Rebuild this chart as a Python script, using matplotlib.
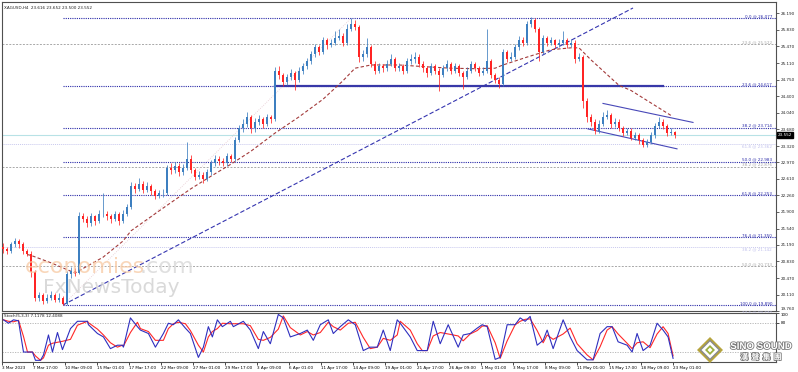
import matplotlib
matplotlib.use("Agg")
import matplotlib.pyplot as plt
import matplotlib.transforms as mtransforms
import matplotlib.patheffects as pe
from matplotlib.patches import Polygon

plt.rcParams['font.family'] = ['DejaVu Sans']

# XAGUSD H4 - one candle here stands for two H4 bars of the screenshot
first_open = 21.15
closes = [
    21.10, 21.05, 21.20, 21.28, 21.20, 21.05, 21.00, 20.60, 20.05, 20.10,
    19.98, 20.05, 20.10, 20.00, 20.05, 19.92, 20.55, 20.62, 20.58, 21.80,
    21.75, 21.65, 21.80, 21.70, 21.85, 21.85, 21.80, 21.75, 21.85, 21.70,
    21.85, 22.00, 22.45, 22.40, 22.50, 22.38, 22.45, 22.35, 22.25, 22.30,
    22.30, 22.85, 22.80, 22.90, 22.75, 22.85, 23.05, 22.80, 22.65, 22.70,
    22.60, 22.75, 22.95, 23.05, 23.00, 22.95, 23.10, 23.05, 23.45, 23.70,
    23.80, 23.95, 23.70, 23.85, 23.90, 23.80, 23.95, 23.90, 24.95, 24.85,
    24.70, 24.80, 24.90, 24.75, 24.95, 25.05, 25.15, 25.30, 25.45, 25.35,
    25.60, 25.50, 25.55, 25.65, 25.70, 25.55, 25.85, 25.95, 25.90, 25.25,
    25.30, 25.45, 25.10, 24.95, 25.05, 25.00, 25.10, 25.20, 25.00, 25.05,
    24.95, 25.15, 25.20, 25.25, 25.10, 25.00, 24.90, 25.05, 24.95, 24.85,
    25.00, 25.10, 24.95, 25.05, 24.90, 24.80, 24.95, 25.10, 25.00, 24.90,
    24.95, 25.15, 24.85, 24.75, 24.65, 25.35, 25.20, 25.25, 25.45, 25.60,
    25.55, 25.95, 26.05, 25.85, 25.35, 25.65, 25.55, 25.60, 25.50, 25.55,
    25.60, 25.50, 25.55, 25.20, 25.25, 24.30, 23.95, 23.85, 23.65, 23.80,
    23.95, 24.00, 23.80, 23.85, 23.70, 23.60, 23.65, 23.50, 23.55, 23.45,
    23.35, 23.40, 23.55, 23.75, 23.85, 23.75, 23.60, 23.616, 23.552]
highs = [
    21.22, 21.15, 21.26, 21.33, 21.32, 21.24, 21.10, 21.05, 20.65, 20.18,
    20.14, 20.12, 20.20, 20.15, 20.15, 20.08, 20.62, 20.70, 20.68, 21.90,
    21.88, 21.82, 21.88, 21.84, 21.95, 22.30, 21.92, 21.86, 21.92, 21.90,
    21.94, 22.08, 22.55, 22.52, 22.62, 22.56, 22.55, 22.50, 22.40, 22.38,
    22.40, 22.92, 22.95, 22.98, 22.95, 22.94, 23.40, 23.12, 22.84, 22.78,
    22.75, 22.82, 23.02, 23.12, 23.10, 23.06, 23.18, 23.15, 23.52, 23.78,
    23.90, 24.05, 24.00, 23.92, 23.98, 23.95, 24.02, 24.00, 25.02, 25.05,
    24.90, 24.88, 24.98, 24.95, 25.02, 25.12, 25.22, 25.38, 25.52, 25.50,
    25.68, 25.66, 25.64, 25.80, 25.85, 25.76, 25.95, 26.08, 26.05, 25.94,
    25.40, 25.65, 25.50, 25.15, 25.12, 25.10, 25.18, 25.30, 25.24, 25.12,
    25.10, 25.22, 25.30, 25.35, 25.30, 25.15, 25.05, 25.12, 25.10, 25.00,
    25.08, 25.18, 25.14, 25.12, 25.10, 24.95, 25.02, 25.16, 25.14, 25.05,
    25.02, 25.85, 25.20, 24.90, 24.80, 25.42, 25.40, 25.34, 25.52, 25.70,
    25.68, 26.02, 26.10, 26.08, 25.90, 25.72, 25.70, 25.68, 25.64, 25.62,
    25.80, 25.65, 25.62, 25.60, 25.32, 25.28, 24.35, 24.02, 23.90, 23.88,
    24.05, 24.10, 24.04, 23.92, 23.90, 23.75, 23.72, 23.70, 23.62, 23.60,
    23.50, 23.48, 23.62, 23.82, 23.95, 23.90, 23.80, 23.72, 23.652]
lows = [
    21.02, 20.98, 21.02, 21.15, 21.12, 21.00, 20.95, 20.50, 19.98, 19.98,
    19.92, 19.94, 20.00, 19.95, 19.96, 19.89, 19.90, 20.48, 20.52, 20.55,
    21.68, 21.58, 21.60, 21.62, 21.66, 21.78, 21.72, 21.66, 21.70, 21.62,
    21.66, 21.80, 21.96, 22.30, 22.36, 22.30, 22.32, 22.26, 22.18, 22.20,
    22.22, 22.26, 22.72, 22.74, 22.68, 22.70, 22.80, 22.74, 22.58, 22.60,
    22.52, 22.56, 22.70, 22.90, 22.92, 22.88, 22.90, 22.98, 23.00, 23.40,
    23.62, 23.74, 23.60, 23.62, 23.78, 23.72, 23.75, 23.82, 23.86, 24.76,
    24.62, 24.64, 24.74, 24.52, 24.70, 24.88, 24.98, 25.10, 25.25, 25.28,
    25.30, 25.42, 25.45, 25.50, 25.60, 25.48, 25.50, 25.80, 25.82, 25.13,
    25.15, 25.25, 25.02, 24.88, 24.90, 24.92, 24.95, 25.05, 24.94, 24.95,
    24.88, 24.90, 25.10, 25.12, 25.02, 24.92, 24.82, 24.86, 24.88, 24.50,
    24.80, 24.94, 24.88, 24.90, 24.84, 24.55, 24.76, 24.90, 24.94, 24.84,
    24.85, 24.90, 24.78, 24.68, 24.58, 24.62, 25.14, 25.15, 25.20, 25.40,
    25.48, 25.50, 25.90, 25.78, 25.15, 25.30, 25.48, 25.50, 25.44, 25.45,
    25.50, 25.44, 25.46, 25.12, 25.15, 24.15, 23.85, 23.76, 23.58, 23.60,
    23.75, 23.90, 23.72, 23.74, 23.64, 23.54, 23.55, 23.44, 23.45, 23.36,
    23.30, 23.30, 23.36, 23.50, 23.70, 23.68, 23.54, 23.55, 23.500]

# moving average (brown dashed)
ma_idx = [6, 7, 12, 18, 25, 30, 32, 40, 47, 52, 57, 62, 68, 74, 80, 85, 88,
          92, 99, 106, 112, 118, 123, 125, 131, 137, 142, 144, 147, 154, 157,
          162, 167]
ma_val = [20.98, 20.96, 20.80, 20.58, 20.92, 21.27, 21.49, 21.98, 22.40,
          22.67, 22.93, 23.21, 23.60, 23.95, 24.33, 24.73, 25.00, 25.07, 25.07,
          25.03, 25.00, 24.99, 25.00, 25.07, 25.24, 25.40, 25.44, 25.44, 25.18,
          24.63, 24.52, 24.25, 23.98]

# Stochastic(5,3,3)
stoch_pos = [-0.7, 0, 1.25, 2.5, 3.75, 5, 6, 7.25, 8, 9.25, 10, 11.25, 12.25,
             13.5, 14.75, 16.75, 18.5, 21, 21.25, 23.5, 25, 26.75, 28.5, 29.75,
             30, 31.75, 33.5, 34.25, 36.25, 38, 40, 41.25, 42.5, 43.75, 45.5,
             46.75, 48.75, 50, 51.25, 52.25, 53.5, 54.75, 56.75, 57.5, 60,
             61.75, 63.75, 65, 66.75, 68.75, 70, 71.75, 74.25, 76, 77.5, 79.25,
             81.25, 82.5, 84.25, 86.25, 88, 90, 91.75, 93.5, 95, 96.75, 98.5,
             99.25, 101.75, 103.5, 104.75, 106, 107.5, 109.25, 111.25, 113.75,
             115, 116.75, 118.5, 119.75, 121, 123, 124.25, 126, 128, 129.25,
             130.5, 131.75, 133.5, 135, 136, 137.5, 140, 141.75, 143.5, 146,
             147.5, 149.25, 151, 152.25, 153.75, 156, 157.25, 158.5, 160,
             161.75, 163.5, 165, 166.25, 167.5]
stoch_k = [86, 86, 79, 86, 84, 20, 20, 20, 3, 3, 14, 55, 20, 60, 25, 68, 83,
           83, 76, 58, 51, 27, 34, 34, 30, 90, 72, 65, 58, 30, 58, 79, 76, 86,
           69, 58, 9, 30, 72, 51, 86, 72, 83, 72, 83, 65, 27, 62, 37, 97, 90,
           51, 58, 65, 44, 76, 86, 58, 72, 86, 76, 23, 30, 30, 65, 23, 86, 79,
           51, 23, 23, 23, 83, 37, 76, 30, 55, 58, 69, 76, 72, 5, 9, 76, 76,
           90, 83, 93, 34, 44, 65, 27, 86, 51, 23, 4, 4, 58, 72, 72, 41, 34,
           20, 58, 23, 34, 79, 65, 51, 7.1]
stoch_d = [86, 86, 83, 82, 85, 52, 20, 20, 12, 3, 8, 34, 38, 40, 42, 46, 75,
           83, 80, 67, 55, 39, 30, 34, 32, 60, 81, 68, 62, 44, 44, 68, 78, 81,
           78, 64, 34, 20, 51, 62, 68, 79, 78, 78, 78, 74, 46, 44, 50, 67, 94,
           70, 55, 62, 55, 60, 81, 72, 65, 79, 81, 50, 27, 30, 48, 44, 55, 83,
           65, 37, 23, 23, 53, 60, 57, 53, 43, 57, 64, 73, 74, 39, 7, 43, 76,
           83, 87, 88, 64, 39, 55, 46, 57, 69, 37, 14, 4, 31, 65, 72, 57, 38,
           27, 39, 41, 29, 57, 72, 58, 12.4]

time_labels = ['3 Mar 2023', '7 Mar 17:00', '10 Mar 09:00', '15 Mar 01:00',
               '17 Mar 17:00', '22 Mar 09:00', '27 Mar 01:00', '29 Mar 17:00',
               '3 Apr 09:00', '6 Apr 01:00', '11 Apr 17:00', '14 Apr 09:00',
               '19 Apr 01:00', '21 Apr 17:00', '26 Apr 09:00', '1 May 01:00',
               '3 May 17:00', '8 May 09:00', '11 May 01:00', '15 May 17:00',
               '18 May 09:00', '23 May 01:00']
price_ticks = [26.190, 25.830, 25.470, 25.110, 24.750, 24.400, 24.040, 23.680,
               23.320, 22.970, 22.610, 22.260, 21.900, 21.540, 21.190, 20.830,
               20.470, 20.110, 19.760]

# fibonacci levels
fib_levels = ['0.0', '23.6', '38.2', '50.0', '61.8', '76.4', '100.0']
fib_prices = [26.077, 24.617, 23.714, 22.983, 22.253, 21.350, 19.890]
fib2_levels = ['23.6', '38.2', '50.0']
fib2_prices = [25.522, 22.876, 20.733]
fib3_levels = ['61.8', '38.2', '23.6']
fib3_prices = [23.362, 21.142, 19.770]

trend_idx = [15, 157.5]
trend_price = [19.89, 26.30]
base_idx = [15, 87]
base_price = [19.89, 26.077]
support_idx = [68, 165]
support_price = [24.617, 24.617]
chan_up_idx = [150, 172.5]
chan_up_price = [24.24, 23.83]
chan_lo_idx = [146.25, 168.5]
chan_lo_price = [23.69, 23.26]
last_price = 23.552

BULL = '#3d7fc0'
BEAR = '#ff2424'
FIB = '#2a2aa8'

W, H = 798, 372
fig = plt.figure(figsize=(W / 100, H / 100), dpi=100)
ax = fig.add_axes([1.5 / W, 1 - 311 / H, 774.5 / W, 309.5 / H])
ax2 = fig.add_axes([1.5 / W, 1 - 361.8 / H, 774.5 / W, 48.8 / H])
xmin, xmax = -0.375, 193.25

# candles
opens = [first_open] + closes[:-1]
for i in range(len(closes)):
    o, c = opens[i], closes[i]
    col = BULL if c >= o else BEAR
    ax.vlines(i, lows[i], highs[i], color=col, lw=0.55, zorder=3)
    ax.bar(i, max(abs(c - o), 0.01), bottom=min(o, c), width=0.62,
           color=col, lw=0, zorder=4)

ax.axhline(last_price, color='#b8e2e6', lw=0.8, zorder=1)

for lv, p in zip(fib2_levels, fib2_prices):
    ax.hlines(p, xmin, xmax, color='#a8a8a8', lw=0.7, linestyles=(0, (2, 1.5)), zorder=1)
    ax.text(192.3, p, f'{lv} @ {p:.3f}', fontsize=3.0, color='#a8a8a8',
            ha='right', va='bottom')
for lv, p in zip(fib3_levels, fib3_prices):
    ax.hlines(p, xmin, xmax, color='#c9c9ee', lw=0.7, linestyles=(0, (1, 1)), zorder=1)
    ax.text(192.3, p, f'{lv} @ {p:.3f}', fontsize=3.0, color='#c0c0ec',
            ha='right', va='top')
for lv, p in zip(fib_levels, fib_prices):
    ax.hlines(p, trend_idx[0], xmax, color=FIB, lw=0.8, linestyles=(0, (1, 1)), zorder=2)
    ax.text(192.3, p, f'{lv} @ {p:.3f}', fontsize=3.0, color=FIB,
            ha='right', va='bottom')

ax.plot(base_idx, base_price, color='#e6c8d0', lw=0.6, ls=':', zorder=1)
ax.plot(trend_idx, trend_price, color='#3535b0', lw=0.8, ls=(0, (4, 2)), zorder=2)
ax.plot(support_idx, support_price, color='#3838a8', lw=1.6, zorder=2)
ax.plot(chan_up_idx, chan_up_price, color='#4848b8', lw=0.8, zorder=2)
ax.plot(chan_lo_idx, chan_lo_price, color='#4848b8', lw=0.8, zorder=2)
ax.plot(ma_idx, ma_val, color='#a33a3a', lw=0.8, ls=(0, (3, 2)), zorder=2)

ax.set_xlim(xmin, xmax)
ax.set_ylim(19.760, 26.44)
ax.set_xticks([])
ax.set_yticks(price_ticks)
ax.set_yticklabels([f'{p:.3f}' for p in price_ticks])
ax.yaxis.tick_right()
ax.tick_params(axis='y', length=2, width=0.5, labelsize=3.0, pad=1.5, colors='#222222')
ax.get_yticklabels()[-1].set_va('bottom')

tr = mtransforms.blended_transform_factory(ax.transAxes, ax.transData)
ax.text(1.002, last_price, f'{last_price:.3f}', transform=tr, fontsize=3.0,
        color='white', ha='left', va='center', zorder=10,
        bbox=dict(boxstyle='square,pad=0.2', fc='black', ec='black'))
ax.text(0.003, 0.985, 'XAGUSD,H4  23.616 23.652 23.500 23.552', transform=ax.transAxes,
        fontsize=3.0, ha='left', va='top', color='#222222')

# watermark
fig.text(25 / W, 1 - 273 / H, 'economies', fontsize=16, color='#f7c9a2', alpha=0.75)
fig.text(140 / W, 1 - 273 / H, '.com', fontsize=16, color='#d8d8d8', alpha=0.8)
fig.text(43 / W, 1 - 293 / H, 'FxNewsToday', fontsize=14.5, color='#d0d0d0', alpha=0.8)

# stochastic panel
ax2.axhline(80, color='#b0b0b0', lw=0.6, ls=(0, (1.5, 1.5)))
ax2.axhline(20, color='#b0b0b0', lw=0.6, ls=(0, (1.5, 1.5)))
ax2.plot(stoch_pos, stoch_d, color='#ff2828', lw=0.8)
ax2.plot(stoch_pos, stoch_k, color='#2f2fbf', lw=0.8)
ax2.set_xlim(xmin, xmax)
ax2.set_ylim(0, 100)
ax2.set_yticks([100, 80])
ax2.yaxis.tick_right()
ax2.tick_params(axis='y', length=2, width=0.5, labelsize=3.0, pad=1.5)
ax2.get_yticklabels()[0].set_va('top')
ax2.set_xticks([8 * i - 0.5 for i in range(len(time_labels))])
ax2.set_xticklabels(time_labels)
ax2.tick_params(axis='x', length=2, width=0.5, labelsize=3.0, pad=0.8)
for lab in ax2.get_xticklabels():
    lab.set_ha('left')
ax2.text(0.003, 0.97, 'Stoch(5,3,3) 7.1178 12.4088', transform=ax2.transAxes,
         fontsize=3.0, ha='left', va='top', color='#222222')

for a in (ax, ax2):
    for s in a.spines.values():
        s.set_color('#505050')
        s.set_linewidth(0.8)

# Sino Sound logo
cx, cy = 710 / W, 1 - 350 / H
def diamond(r, color):
    return Polygon([(cx - r / W, cy), (cx, cy + r / H), (cx + r / W, cy), (cx, cy - r / H)],
                   closed=True, transform=fig.transFigure, fc=color, ec='none', zorder=20)
for r, col in [(13, '#b7a53c'), (10.5, '#8a8a8a'), (8.5, '#ffffff'), (5, '#9cb040'), (2.5, '#ffffff')]:
    fig.patches.append(diamond(r, col))
fig.text(761 / W, 1 - 346 / H, 'SINO SOUND', fontsize=7, fontweight='bold',
         family=['Liberation Sans', 'DejaVu Sans'], color='white', ha='center', va='center',
         zorder=21, path_effects=[pe.withStroke(linewidth=1.2, foreground='#7a7a7a')])
fig.text(761 / W, 1 - 357 / H, '漢  聲  集  團', fontsize=5.5, fontweight='bold',
         family=['Noto Sans CJK TC', 'DejaVu Sans'], color='white', ha='center', va='center',
         zorder=21, path_effects=[pe.withStroke(linewidth=1.2, foreground='#7a7a7a')])

fig.savefig('out.png', dpi=100)
